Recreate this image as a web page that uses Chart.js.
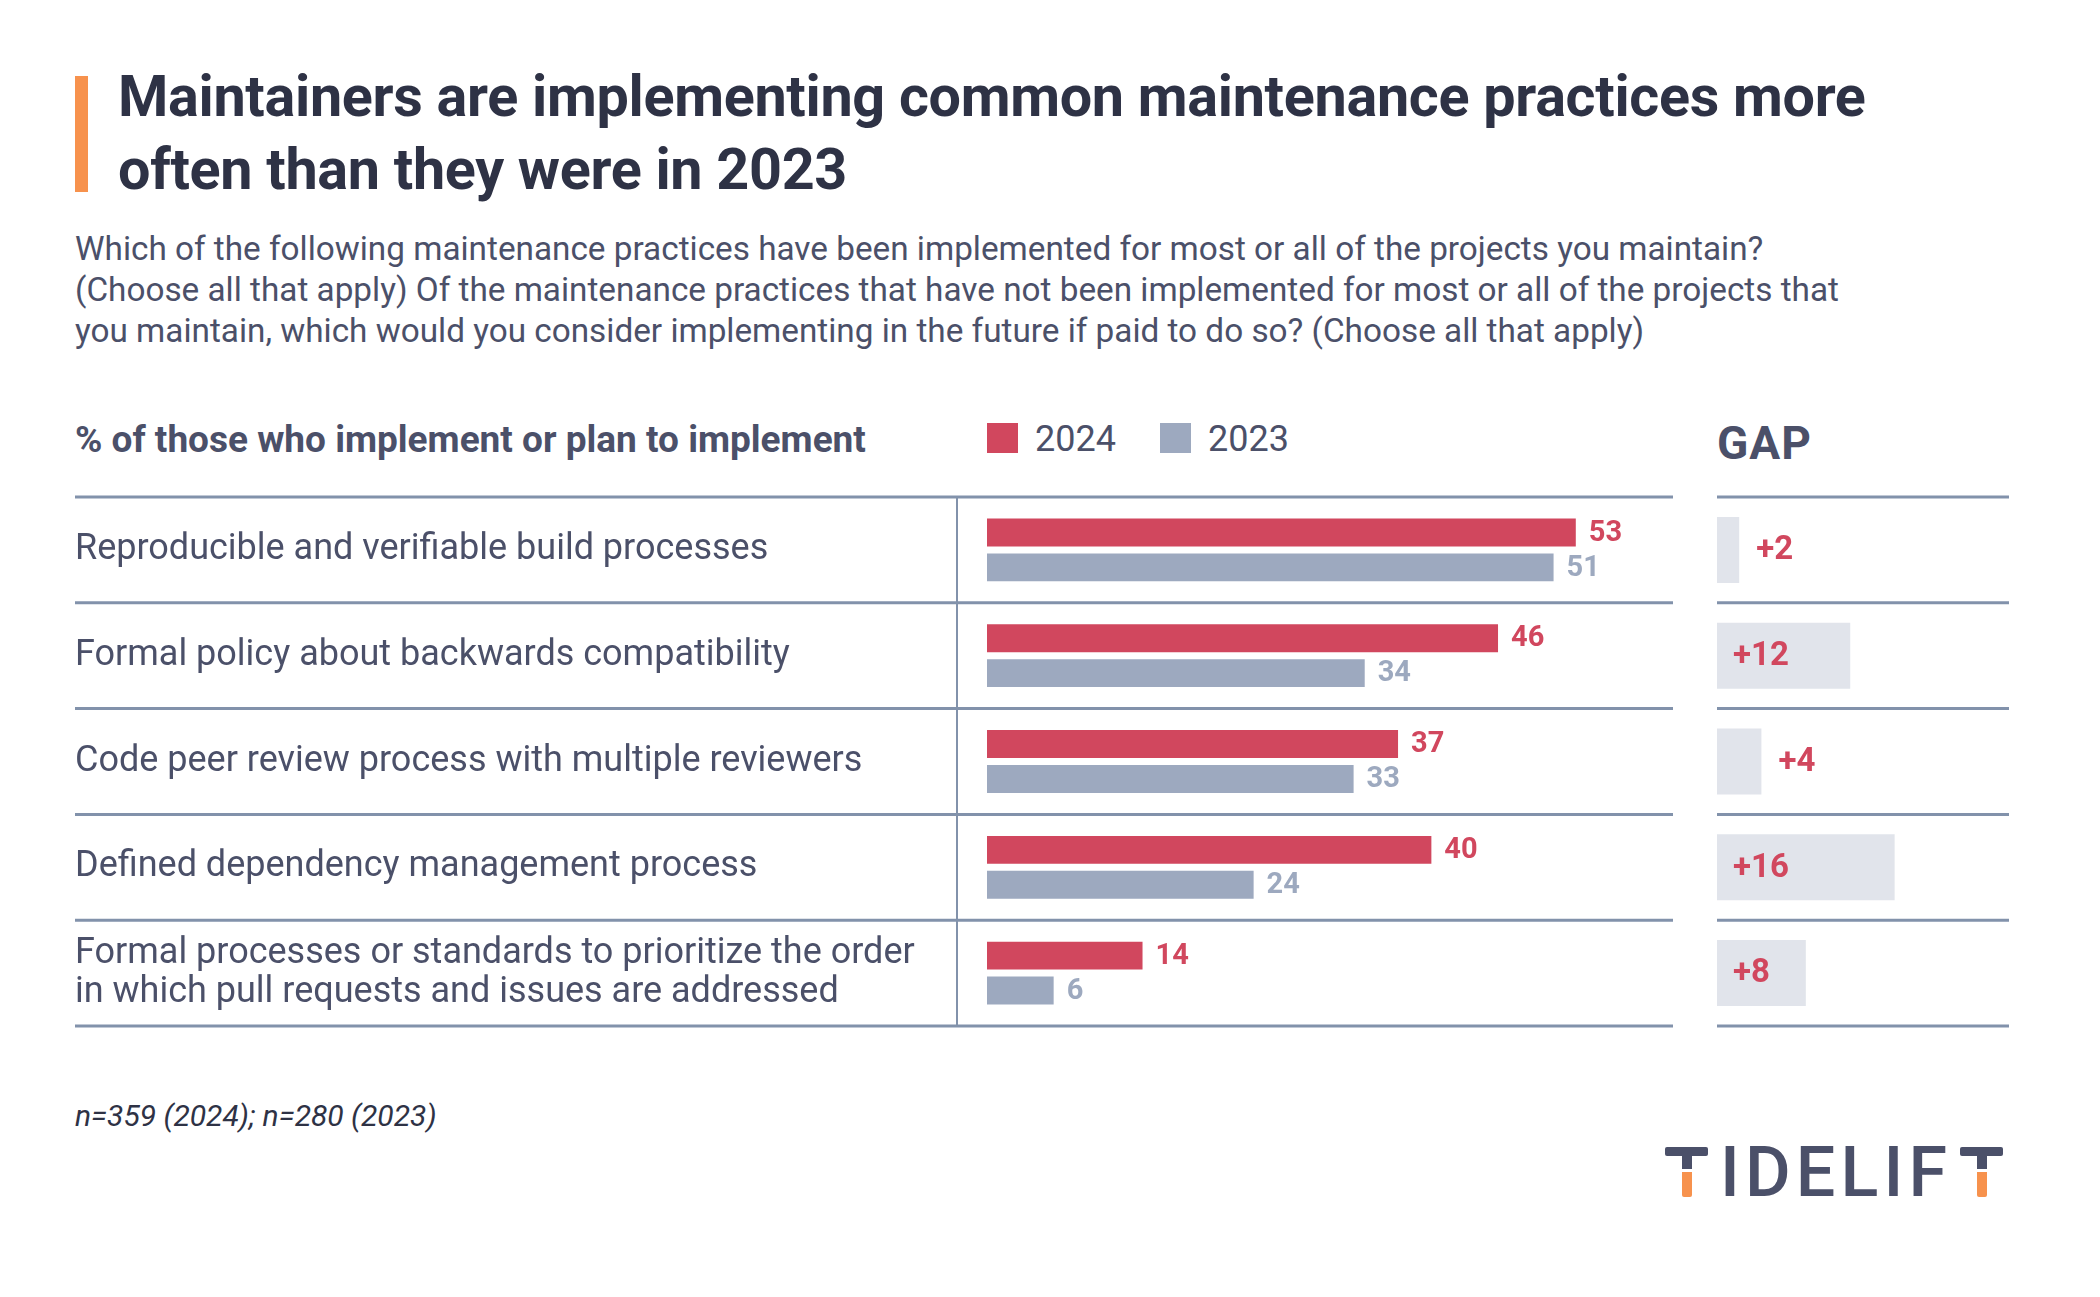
<!DOCTYPE html>
<html>
<head>
<meta charset="utf-8">
<script src="https://cdn.jsdelivr.net/npm/chart.js@4"></script>
<style>
  body{ margin:0; background:#fff; font-family:Roboto, sans-serif; }
  #page{ position:relative; width:2100px; height:1297px; overflow:hidden; background:#fff; }
  .abs{ position:absolute; }
  #accent{ left:75px; top:76px; width:13px; height:116px; background:#f7924d; }
  #title{ left:118px; top:60px; width:1960px; font-size:57.5px; line-height:73px; font-weight:700; color:#2e3245; letter-spacing:-0.3px; }
  #subtitle{ left:75px; top:228px; width:2000px; font-size:33.3px; line-height:41px; color:#4b5069; }
  #header{ left:75px; top:419px; font-size:37px; line-height:42px; font-weight:700; color:#4b5069; }
  .sw{ width:31px; height:30px; }
  .lg{ font-size:36px; line-height:42px; color:#4b5069; }
  #gap{ left:1717px; top:418px; font-size:46px; line-height:50px; font-weight:700; color:#4b5069; letter-spacing:1px; }
  #note{ left:75px; top:1097px; font-size:30px; line-height:38px; font-style:italic; color:#2e3245; }
  canvas{ position:absolute; }
  .logo{ background:#4b5069; }
  #logotext{ left:1720px; top:1133px; width:227px; display:flex; justify-content:space-between; font-size:70px; line-height:78px; font-weight:500; color:#4b5069; }
</style>
</head>
<body>
<div id="page">
  <div id="accent" class="abs"></div>
  <div id="title" class="abs">Maintainers are implementing common maintenance practices more<br>often than they were in 2023</div>
  <div id="subtitle" class="abs">Which of the following maintenance practices have been implemented for most or all of the projects you maintain?<br>(Choose all that apply) Of the maintenance practices that have not been implemented for most or all of the projects that<br>you maintain, which would you consider implementing in the future if paid to do so? (Choose all that apply)</div>
  <div id="header" class="abs">% of those who implement or plan to implement</div>

  <div class="abs sw" style="left:987px;top:423px;background:#d1475e"></div>
  <div class="abs lg" id="lg1" style="left:1035px;top:418px"></div>
  <div class="abs sw" style="left:1160px;top:423px;background:#9da9bf"></div>
  <div class="abs lg" id="lg2" style="left:1208px;top:418px"></div>

  <div id="gap" class="abs">GAP</div>

  <canvas id="mainChart" width="1600" height="545" style="left:75px;top:490px"></canvas>
  <canvas id="gapChart" width="300" height="545" style="left:1717px;top:490px"></canvas>

  <div id="note" class="abs">n=359 (2024); n=280 (2023)</div>

  <!-- logo -->
  <div class="abs logo" style="left:1665px;top:1147px;width:43px;height:9px;border-radius:2px"></div>
  <div class="abs logo" style="left:1682px;top:1155px;width:10px;height:14px"></div>
  <div class="abs" style="left:1682px;top:1172px;width:10px;height:25px;background:#f7924d;border-radius:0 0 2px 2px"></div>
  <div id="logotext" class="abs"><span>I</span><span>D</span><span>E</span><span>L</span><span>I</span><span>F</span></div>
  <div class="abs logo" style="left:1960px;top:1147px;width:43px;height:9px;border-radius:2px"></div>
  <div class="abs logo" style="left:1977px;top:1155px;width:10px;height:14px"></div>
  <div class="abs" style="left:1977px;top:1172px;width:10px;height:25px;background:#f7924d;border-radius:0 0 2px 2px"></div>
</div>

<script>
const categories = [
  "Reproducible and verifiable build processes",
  "Formal policy about backwards compatibility",
  "Code peer review process with multiple reviewers",
  "Defined dependency management process",
  ["Formal processes or standards to prioritize the order", "in which pull requests and issues are addressed"]
];
const seriesNames = ["2024", "2023"];
const values2024 = [53, 46, 37, 40, 14];
const values2023 = [51, 34, 33, 24, 6];
const gapValues = [2, 12, 4, 16, 8];

const RED = "#d1475e";
const GRAY = "#9da9bf";
const LINE = "#8292ab";
const TEXT = "#4b5069";

document.getElementById("lg1").textContent = seriesNames[0];
document.getElementById("lg2").textContent = seriesNames[1];

// horizontal separators between rows, drawn from the category scale
function drawRowLines(chart, x0, withDivider){
    const ctx = chart.ctx;
    const y = chart.scales.y;
    const band = y.getPixelForValue(1) - y.getPixelForValue(0);
    ctx.save();
    ctx.strokeStyle = LINE;
    ctx.lineWidth = 3;
    for(let i = 0; i <= categories.length; i++){
        let py = y.getPixelForValue(i) - band / 2;
        ctx.beginPath();
        ctx.moveTo(x0, py);
        ctx.lineTo(chart.chartArea.right, py);
        ctx.stroke();
    }
    if(withDivider){
        let vx = chart.chartArea.left - 30;
        ctx.lineWidth = 2;
        ctx.beginPath();
        ctx.moveTo(vx, y.getPixelForValue(0) - band / 2);
        ctx.lineTo(vx, y.getPixelForValue(categories.length - 1) + band / 2);
        ctx.stroke();
    }
    ctx.restore();
}

const mainPlugin = {
    id: "mainDecor",
    afterDatasetsDraw(chart){
        drawRowLines(chart, 0, true);
        const ctx = chart.ctx;
        ctx.save();
        ctx.font = "700 29px Roboto";
        ctx.textBaseline = "middle";
        ctx.textAlign = "left";
        chart.data.datasets.forEach((ds, di) => {
            ctx.fillStyle = di === 0 ? RED : GRAY;
            chart.getDatasetMeta(di).data.forEach((bar, i) => {
                ctx.fillText(ds.data[i], bar.x + 13, bar.y + 1);
            });
        });
        ctx.restore();
    }
};

const gapPlugin = {
    id: "gapDecor",
    afterDatasetsDraw(chart){
        drawRowLines(chart, 0, false);
        const ctx = chart.ctx;
        ctx.save();
        ctx.font = "700 33px Roboto";
        ctx.textBaseline = "middle";
        ctx.textAlign = "left";
        ctx.fillStyle = RED;
        chart.getDatasetMeta(0).data.forEach((bar, i) => {
            let label = "+" + gapValues[i];
            let w = ctx.measureText(label).width;
            let left = chart.chartArea.left;
            let x = (bar.x - left > w + 30) ? left + 16 : bar.x + 17;
            ctx.fillText(label, x, bar.y + 1);
        });
        ctx.restore();
    }
};

new Chart(document.getElementById("mainChart"), {
    type: "bar",
    data: {
        labels: categories,
        datasets: [
            { label: seriesNames[0], data: values2024, backgroundColor: RED },
            { label: seriesNames[1], data: values2023, backgroundColor: GRAY }
        ]
    },
    options: {
        indexAxis: "y",
        responsive: false,
        animation: false,
        layout: { padding: { top: 7, bottom: 9, left: 0, right: 2 } },
        datasets: { bar: { categoryPercentage: 0.66, barPercentage: 0.8 } },
        plugins: { legend: { display: false }, tooltip: { enabled: false } },
        scales: {
            x: { display: false, min: 0, max: 61.75 },
            y: {
                grid: { display: false },
                border: { display: false },
                ticks: {
                    crossAlign: "far",
                    color: TEXT,
                    font: { family: "Roboto", size: 36, lineHeight: 1.08 }
                },
                afterFit(scale){
                    scale.width = 912;
                    scale.paddingTop = 0;
                    scale.paddingBottom = 0;
                }
            }
        }
    },
    plugins: [mainPlugin]
});

new Chart(document.getElementById("gapChart"), {
    type: "bar",
    data: {
        labels: categories,
        datasets: [{ label: "GAP", data: gapValues, backgroundColor: "#e1e4eb" }]
    },
    options: {
        indexAxis: "y",
        responsive: false,
        animation: false,
        layout: { padding: { top: 7, bottom: 9, left: 0, right: 8 } },
        datasets: { bar: { categoryPercentage: 0.624, barPercentage: 1 } },
        plugins: { legend: { display: false }, tooltip: { enabled: false } },
        scales: {
            x: { display: false, min: 0, max: 26.3 },
            y: { display: false }
        }
    },
    plugins: [gapPlugin]
});
</script>
</body>
</html>
